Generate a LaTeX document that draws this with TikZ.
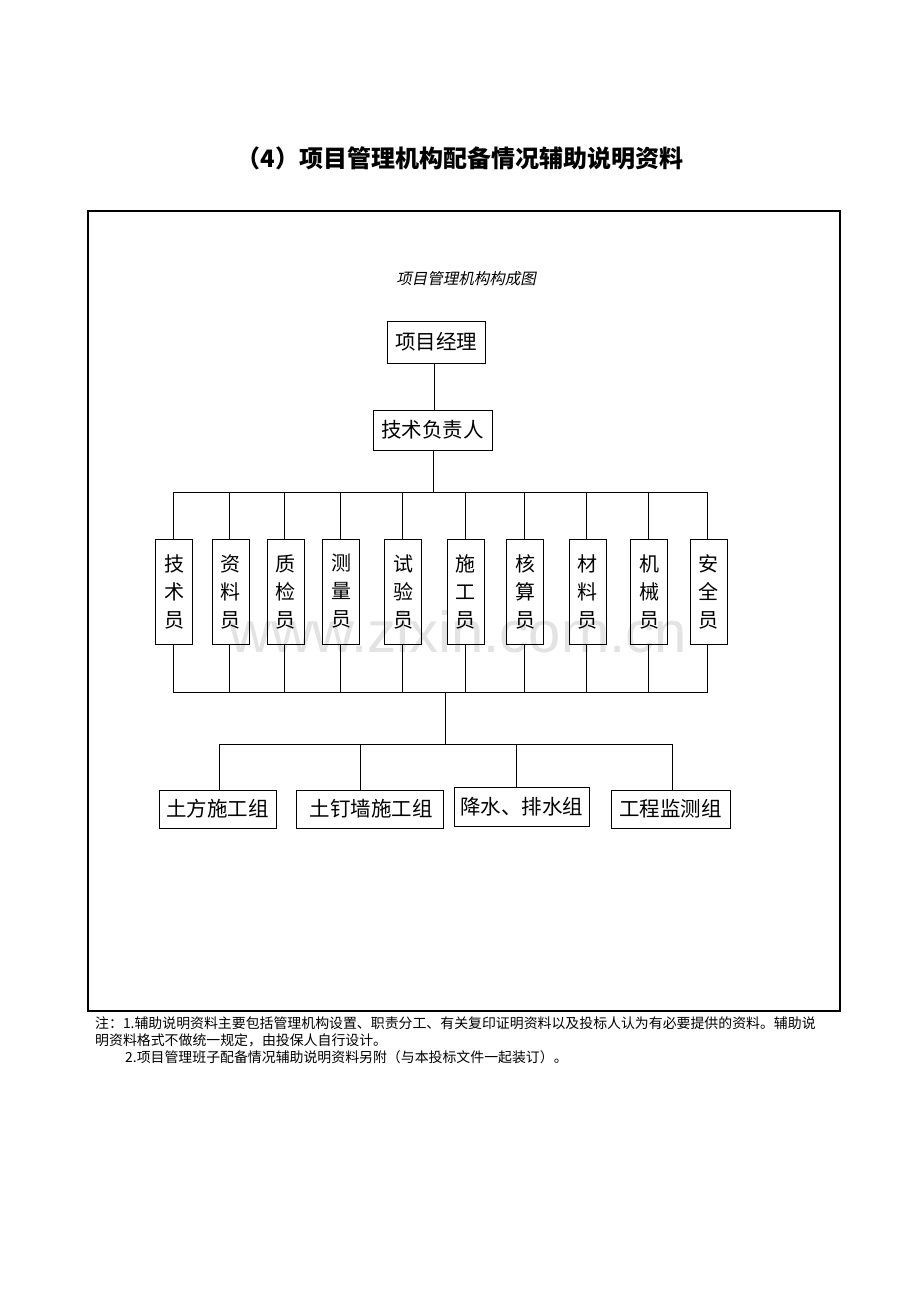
\documentclass[tikz,border=0pt]{standalone}
\usepackage{fontspec}
\setmainfont{Noto Sans CJK SC}
\newfontfamily\cjk{Noto Sans CJK SC}
\newfontfamily\cjkit[FakeSlant=0.2]{Noto Sans CJK SC}
\newfontfamily\wmfont{Liberation Sans}
\begin{document}
\begin{tikzpicture}[x=1pt,y=-1pt,
  box/.style={draw=black,line width=0.9pt,inner sep=0pt,minimum height=40pt,font=\fontsize{20.5}{20.5}\selectfont\cjk},
  vbox/.style={draw=black,line width=0.9pt,inner sep=0pt,minimum width=37pt,minimum height=105pt,align=center,font=\fontsize{20}{28}\selectfont\cjk},
  ln/.style={line width=0.8pt},
  note/.style={anchor=west,inner sep=0pt,font=\fontsize{13.9}{14}\selectfont\cjk}]
\useasboundingbox (0,0) rectangle (920,1302);
\fill[white] (0,0) rectangle (920,1302);
% watermark
\node[text=black!11,font=\fontsize{58}{58}\selectfont\wmfont] (wm) at (458,632) {www.zixin.com.cn};
% title
\node[font=\fontsize{24}{24}\selectfont\cjk\bfseries] (title) at (460,158) {（4）项目管理机构配备情况辅助说明资料};
% frame
\node[draw=black,line width=2pt,minimum width=752pt,minimum height=800pt,inner sep=0pt] (frame) at (464,611) {};
\node[font=\fontsize{15.5}{15.5}\selectfont\cjkit] (sub) at (466,279) {项目管理机构构成图};
% top boxes
\node[box,minimum width=98pt,minimum height=42pt] (pm) at (436,342) {项目经理};
\node[box,minimum width=119pt] (tech) at (432.5,430) {技术负责人};
\draw[ln] (pm.south -| 434,0) -- (tech.north -| 434,0);
% bus coords
\coordinate (tb) at (433,492);
\coordinate (bb) at (445,692);
\draw[ln] (tech.south -| tb) -- (tb);
\draw[ln] (173,492) coordinate (tl) -- (708,492) coordinate (tr);
\draw[ln] (173,692) coordinate (bl) -- (708,692) coordinate (br);
% column boxes
\foreach \n/\x/\t in {a/174/技\\术\\员, b/230.5/资\\料\\员, c/285.5/质\\检\\员, d/341/测\\量\\员, e/403/试\\验\\员, f/465.5/施\\工\\员, g/525/核\\算\\员, h/587.5/材\\料\\员, i/649/机\\械\\员, j/708.5/安\\全\\员}{
  \node[vbox] (\n) at (\x,591.5) {\t};
}
\foreach \n/\x in {a/173.5,b/229.5,c/284.5,d/340,e/402,f/465,g/524,h/586.5,i/648,j/707.5}{
  \draw[ln] (\n.north -| \x,0) -- (\x,492);
  \draw[ln] (\n.south -| \x,0) -- (\x,692);
}
% lower bus
\draw[ln] (bb) -- (445,744) coordinate (lb);
\draw[ln] (219,744) -- (672,744);
\node[box,minimum width=117pt,minimum height=38pt] (g1) at (217.5,809) {土方施工组};
\node[box,minimum width=147pt,minimum height=38pt] (g2) at (369.5,809) {\,土钉墙施工组};
\node[box,minimum width=135pt,minimum height=39pt] (g3) at (521.5,806.5) {降水、排水组};
\node[box,minimum width=119pt,minimum height=38pt] (g4) at (670.5,809) {工程监测组};
\draw[ln] (219,744) -- (g1.north -| 219,0);
\draw[ln] (360,744) -- (g2.north -| 360,0);
\draw[ln] (516,744) -- (g3.north -| 516,0);
\draw[ln] (672,744) -- (g4.north -| 672,0);
% notes
\node[note] (n1) at (95,1023) {注：1.辅助说明资料主要包括管理机构设置、职责分工、有关复印证明资料以及投标人认为有必要提供的资料。辅助说};
\node[note] (n2) at (95,1040) {明资料格式不做统一规定，由投保人自行设计。};
\node[note] (n3) at (125,1057) {2.项目管理班子配备情况辅助说明资料另附（与本投标文件一起装订）。};
\end{tikzpicture}
\end{document}
